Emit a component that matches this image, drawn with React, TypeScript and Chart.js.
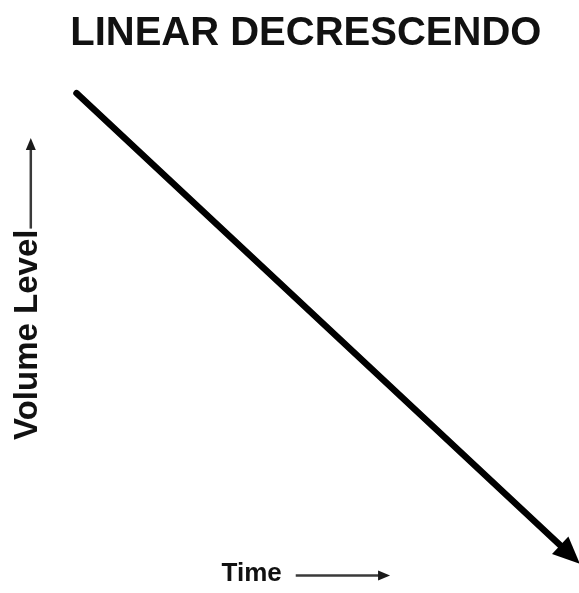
import React, { useEffect, useRef } from "react";
import { Chart, registerables } from "chart.js";

Chart.register(...registerables);

// ---- data ----
const chartTitle = "LINEAR DECRESCENDO";
const xAxisWord = "Time";
const yAxisWord = "Volume Level";
const timeValues = [5.6, 101.1];
const volumeValues = [94.7, -10.6];

const FONT = "'Liberation Sans', Arial, Helvetica, sans-serif";
const X_SIZE = 26;
const Y_SIZE = 33;
const X_PAD = { top: 50, bottom: 4 };
const Y_PAD = { top: 8, bottom: 0 };
// trailing room in the axis titles, where the pointer arrows are drawn
const xAxisLabel = xAxisWord + " ".repeat(15);
const yAxisLabel = yAxisWord + " ".repeat(10);

function drawArrow(ctx: CanvasRenderingContext2D, x1: number, y1: number, x2: number, y2: number) {
  const ang = Math.atan2(y2 - y1, x2 - x1);
  const len = Math.hypot(x2 - x1, y2 - y1);
  ctx.save();
  ctx.translate(x1, y1);
  ctx.rotate(ang);
  ctx.strokeStyle = "#3a3a3a";
  ctx.lineWidth = 2.5;
  ctx.beginPath();
  ctx.moveTo(0, 0);
  ctx.lineTo(len - 8, 0);
  ctx.stroke();
  ctx.fillStyle = "#1a1a1a";
  ctx.beginPath();
  ctx.moveTo(len, 0);
  ctx.lineTo(len - 12, -5);
  ctx.lineTo(len - 12, 5);
  ctx.closePath();
  ctx.fill();
  ctx.restore();
}

const decorationsPlugin = {
  id: "decorations",
  afterDatasetsDraw(chart: any) {
    const ctx = chart.ctx as CanvasRenderingContext2D;
    // arrowhead at the end of the data line
    const meta = chart.getDatasetMeta(0);
    const pts = meta.data;
    if (pts && pts.length >= 2) {
      const a = pts[pts.length - 2];
      const b = pts[pts.length - 1];
      const ang = Math.atan2(b.y - a.y, b.x - a.x);
      ctx.save();
      ctx.translate(b.x, b.y);
      ctx.rotate(ang);
      ctx.beginPath();
      ctx.moveTo(14, 0);
      ctx.lineTo(-13, -12);
      ctx.lineTo(-13, 12);
      ctx.closePath();
      ctx.fillStyle = "#000";
      ctx.fill();
      ctx.restore();
    }
  },
  afterDraw(chart: any) {
    const ctx = chart.ctx as CanvasRenderingContext2D;
    const xs = chart.scales.x;
    const ys = chart.scales.y;
    ctx.save();
    // x axis pointer
    ctx.font = `bold ${X_SIZE}px ${FONT}`;
    const xW = ctx.measureText(xAxisLabel).width;
    const xw = ctx.measureText(xAxisWord).width;
    const cx = (xs.left + xs.right) / 2;
    const ty = xs.bottom - (X_SIZE * 1.2) / 2 - X_PAD.bottom + 2;
    drawArrow(ctx, cx - xW / 2 + xw + 14, ty, cx + xW / 2, ty);
    // y axis pointer
    ctx.font = `bold ${Y_SIZE}px ${FONT}`;
    const yW = ctx.measureText(yAxisLabel).width;
    const yw = ctx.measureText(yAxisWord).width;
    const cy = (ys.top + ys.bottom) / 2;
    const tx = ys.left + (Y_SIZE * 1.2) / 2 + Y_PAD.top + 3;
    drawArrow(ctx, tx, cy + yW / 2 - yw - 1, tx, cy - yW / 2);
    ctx.restore();
  },
};

export default function App() {
  const ref = useRef<HTMLCanvasElement | null>(null);

  useEffect(() => {
    if (!ref.current) return;
    const data = timeValues.map((t, i) => ({ x: t, y: volumeValues[i] }));
    const chart = new Chart(ref.current, {
      type: "line",
      data: {
        datasets: [
          {
            data,
            borderColor: "#000",
            borderWidth: 6.5,
            borderCapStyle: "round",
            pointRadius: 0,
            pointHoverRadius: 0,
            fill: false,
            tension: 0,
            clip: false as any,
          },
        ],
      },
      options: {
        animation: false,
        responsive: false,
        devicePixelRatio: 1,
        layout: { padding: { left: 0, right: 15, top: 0, bottom: 0 } },
        plugins: {
          legend: { display: false },
          tooltip: { enabled: false },
          title: {
            display: true,
            text: chartTitle,
            fullSize: false,
            color: "#111",
            font: { family: FONT, size: 40, weight: "bold" },
            padding: { top: 10, bottom: 12 },
          },
        },
        scales: {
          x: {
            type: "linear",
            min: 0,
            max: 100,
            ticks: { display: false },
            grid: { display: false, drawTicks: false },
            border: { display: false },
            title: {
              display: true,
              text: xAxisLabel,
              color: "#111",
              font: { family: FONT, size: X_SIZE, weight: "bold" },
              padding: X_PAD,
            },
          },
          y: {
            type: "linear",
            min: 0,
            max: 100,
            ticks: { display: false },
            grid: { display: false, drawTicks: false },
            border: { display: false },
            title: {
              display: true,
              text: yAxisLabel,
              color: "#111",
              font: { family: FONT, size: Y_SIZE, weight: "bold" },
              padding: Y_PAD,
            },
          },
        },
      },
      plugins: [decorationsPlugin],
    });
    return () => chart.destroy();
  }, []);

  return (
    <div style={{ position: "fixed", left: 0, top: 0, width: 579, height: 593, background: "#fff" }}>
      <canvas ref={ref} width={579} height={593} style={{ display: "block" }} />
    </div>
  );
}
